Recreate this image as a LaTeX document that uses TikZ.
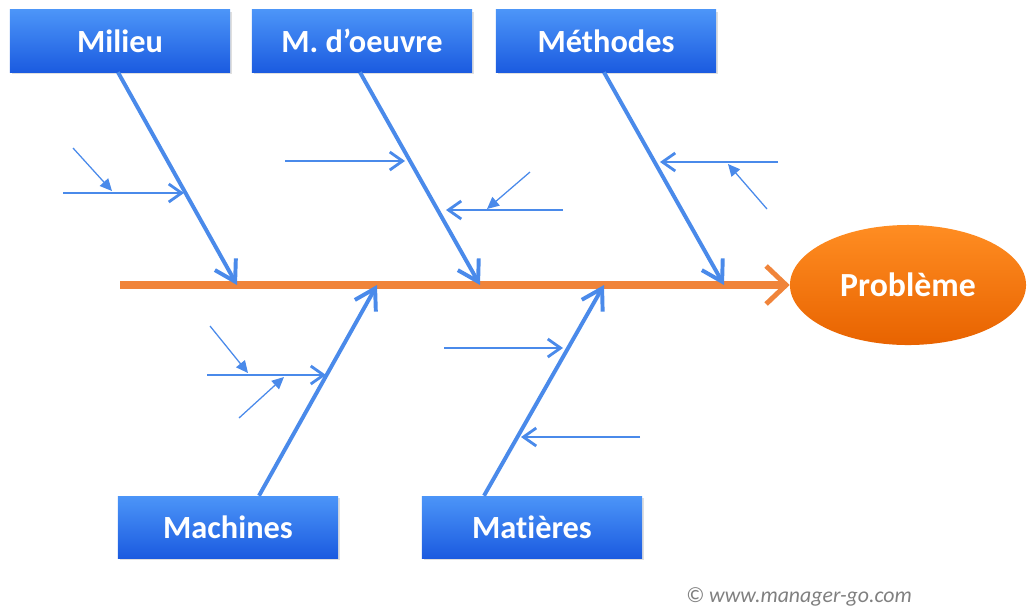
\documentclass[tikz,border=0pt]{standalone}
\usepackage{fontspec}
\setmainfont{Carlito}[Ligatures=NoCommon]
\usetikzlibrary{arrows.meta}
\usetikzlibrary{shapes.geometric,shadows}
\definecolor{boxtop}{HTML}{4C95F8}
\definecolor{boxbot}{HTML}{1B5BE0}
\definecolor{bone}{HTML}{4A8AEA}
\definecolor{spine}{HTML}{F0843A}
\definecolor{probtop}{HTML}{FF8D22}
\definecolor{probbot}{HTML}{E86300}
\tikzset{
  cause/.style={rectangle, top color=boxtop, bottom color=boxbot,
    minimum width=5.5cm, minimum height=1.55cm, text=white,
    font=\fontsize{23}{27}\selectfont\bfseries,
    drop shadow={shadow xshift=0.05cm, shadow yshift=-0.06cm, opacity=0.25}},
  effect/.style={ellipse, top color=probtop, bottom color=probbot,
    minimum width=5.9cm, minimum height=3cm, text=white,
    font=\fontsize{24}{28}\selectfont\bfseries},
  spineline/.style={draw=spine, line width=5.5pt,
    -{Straight Barb[length=0.5cm, width=0.95cm, line width=3.5pt]}},
  boneline/.style={draw=bone, line width=2.8pt,
    -{Straight Barb[length=0.5cm, width=0.6cm]}},
  subline/.style={draw=bone, line width=2pt,
    -{Straight Barb[length=0.32cm, width=0.45cm]}},
  tinyline/.style={draw=bone, line width=0.9pt,
    -{Triangle[length=0.3cm, width=0.28cm]}}
}

\begin{document}
\begin{tikzpicture}[x=0.025cm, y=-0.025cm]
\useasboundingbox (0,0) rectangle (1028,608);
% causes and effect
\node[cause] (milieu) at (120,41) {Milieu};
\node[cause] (oeuvre) at (362,41) {M. d’oeuvre};
\node[cause] (methodes) at (606,41) {Méthodes};
\node[cause] (machines) at (228,527) {Machines};
\node[cause] (matieres) at (532,527) {Matières};
\node[effect] (probleme) at (908,285) {Problème};
% spine
\coordinate (tail) at (120,285);
\draw[spineline] (tail) -- (probleme.west);
% bones
\coordinate (s1) at (237,285);
\coordinate (s2) at (480,285);
\coordinate (s3) at (724,285);
\coordinate (s4) at (377,285);
\coordinate (s5) at (604,285);
\draw[boneline] (milieu.south) ++(-2,0) coordinate (b1) (b1) -- (s1);
\draw[boneline] (oeuvre.south) ++(-2,0) coordinate (b2) (b2) -- (s2);
\draw[boneline] (methodes.south) ++(-2,0) coordinate (b3) (b3) -- (s3);
\draw[boneline] (machines.north) ++(31,0) coordinate (b4) (b4) -- (s4);
\draw[boneline] (matieres.north) ++(-48,0) coordinate (b5) (b5) -- (s5);
% sub causes
\coordinate (m1) at (63,193);   \coordinate (m2) at (184,193);
\coordinate (o1) at (285,161);  \coordinate (o2) at (405,161);
\coordinate (o3) at (563,210);  \coordinate (o4) at (446,210);
\coordinate (t1) at (778,162);  \coordinate (t2) at (660,162);
\coordinate (c1) at (207,375);  \coordinate (c2) at (326,375);
\coordinate (r1) at (444,348);  \coordinate (r2) at (563,348);
\coordinate (r3) at (640,437);  \coordinate (r4) at (521,437);
\draw[subline] (m1) -- (m2);
\draw[subline] (o1) -- (o2);
\draw[subline] (o3) -- (o4);
\draw[subline] (t1) -- (t2);
\draw[subline] (c1) -- (c2);
\draw[subline] (r1) -- (r2);
\draw[subline] (r3) -- (r4);
% small arrows
\coordinate (d1) at (73,148);   \coordinate (d2) at (112,191);
\coordinate (d3) at (530,172);  \coordinate (d4) at (487,209);
\coordinate (d5) at (767,209);  \coordinate (d6) at (728,164);
\coordinate (d7) at (210,326);  \coordinate (d8) at (248,373);
\coordinate (d9) at (239,418);  \coordinate (d10) at (284,377);
\draw[tinyline] (d1) -- (d2);
\draw[tinyline] (d3) -- (d4);
\draw[tinyline] (d5) -- (d6);
\draw[tinyline] (d7) -- (d8);
\draw[tinyline] (d9) -- (d10);
% credit
\node[text=gray, font=\fontsize{15.5}{18}\selectfont\itshape] (credit) at (799,597) {© www.manager-go.com};
\end{tikzpicture}
\end{document}
